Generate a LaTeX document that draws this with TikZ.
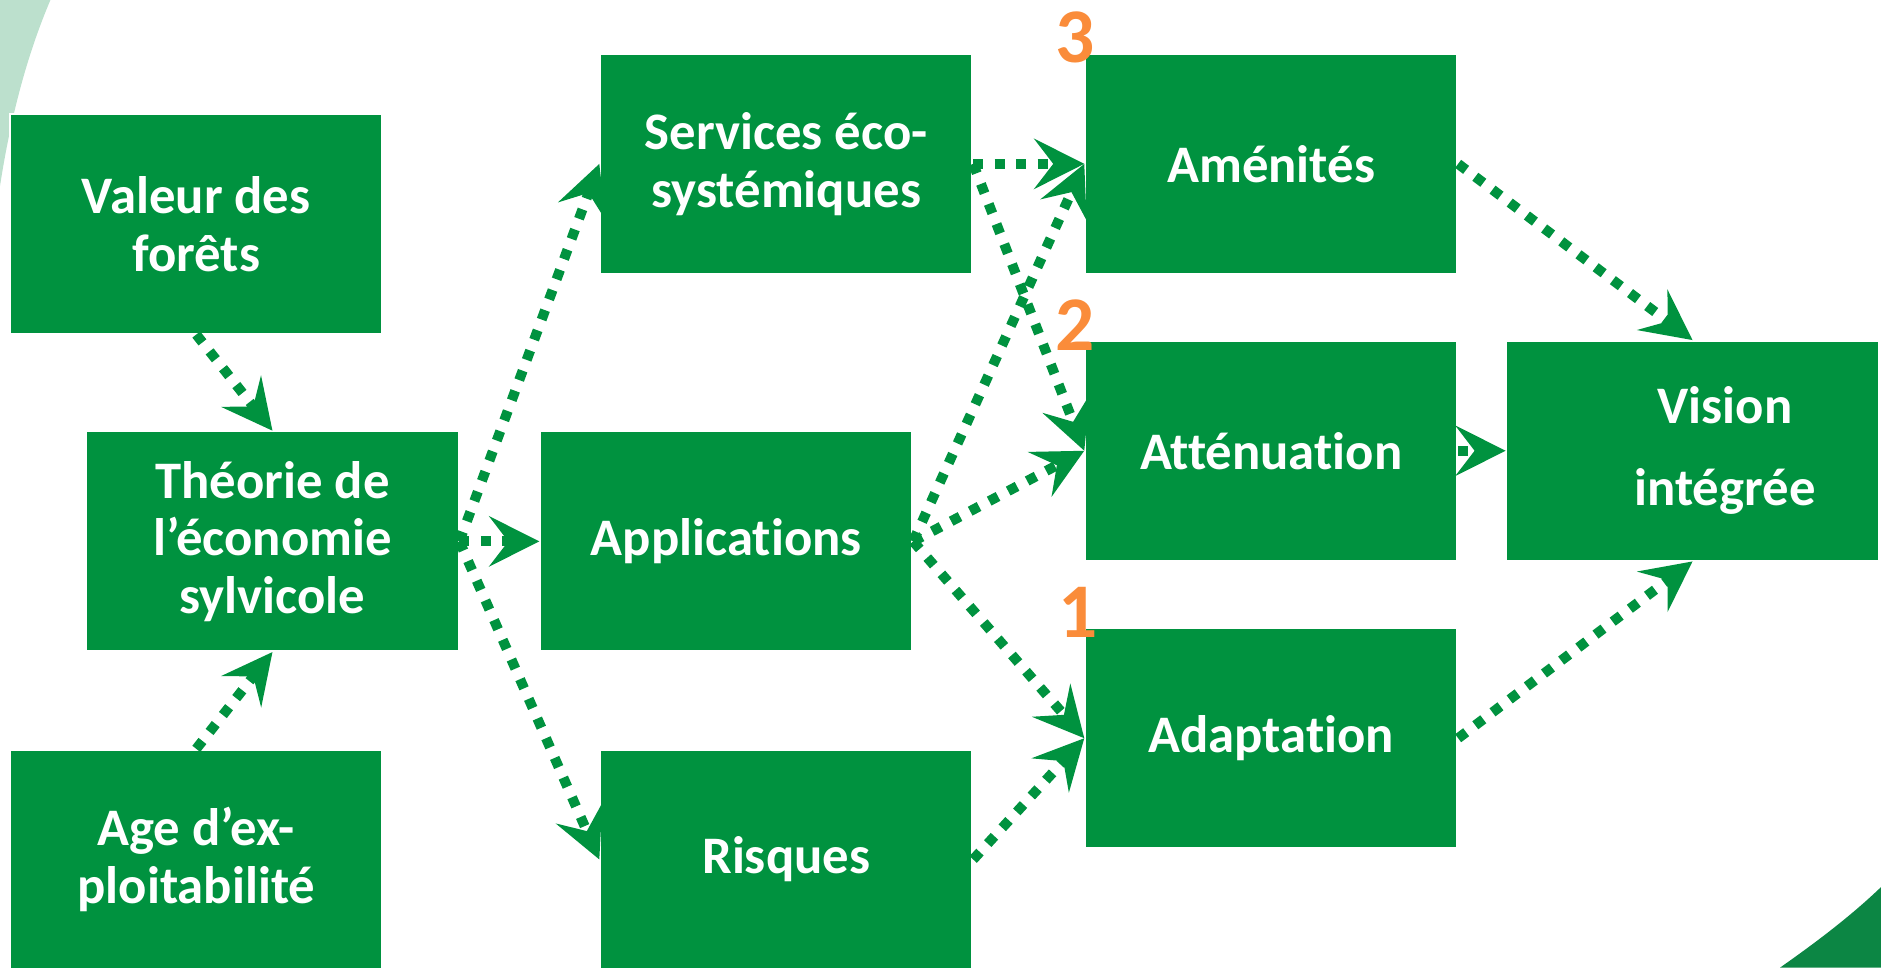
\documentclass[tikz,border=0pt]{standalone}
\usepackage{fontspec}
\setmainfont{Carlito}[Ligatures={NoCommon,NoDiscretionary}]
\usetikzlibrary{arrows.meta}

\definecolor{boxgreen}{RGB}{0,146,63}
\definecolor{numorange}{RGB}{250,140,58}
\definecolor{palegreen}{RGB}{188,224,205}
\definecolor{cornergreen}{RGB}{12,134,68}

\tikzstyle{block} = [rectangle,fill=boxgreen,draw=white,line width=1pt,minimum width=7.44cm,minimum height=4.39cm,inner sep=0pt,align=center,text=white,font=\fontsize{30}{32.8}\selectfont\bfseries]
\tikzstyle{flow} = [draw=boxgreen,line width=0.2cm,dash pattern=on 0.2cm off 0.23cm]
\tikzstyle{rank} = [text=numorange,inner sep=0pt,font=\fontsize{44}{48}\selectfont\bfseries]

\begin{document}
\begin{tikzpicture}[x=0.024cm,y=-0.024cm,>={Stealth[length=1cm,width=1cm,inset=0.38cm]}]

	\useasboundingbox (0,0) rectangle (1567,806);

	% corner shapes
	\fill[palegreen] (0,0) -- (42,0) .. controls (25,40) and (10,90) .. (0,155) -- cycle;
	\fill[cornergreen] (1483,806) .. controls (1520,780) and (1545,760) .. (1567,739) -- (1567,806) -- cycle;

	\node (valeur) [block] at (163.5,186.5) {Valeur des\\forêts};
	\node (theorie) [block] at (227,451) {Théorie de\\l’économie\\sylvicole};
	\node (age) [block] at (163.5,716) {Age d’ex-\\ploitabilité};

	\node (services) [block] at (655,136.5) {Services éco-\\systémiques};
	\node (applications) [block] at (605,451) {Applications};
	\node (risques) [block] at (655,716) {Risques};

	\node (amenites) [block] at (1059,136.5) {Aménités};
	\node (attenuation) [block] at (1059,375.5) {Atténuation};
	\node (adaptation) [block] at (1059,615) {Adaptation};

	\node (vision) [block] at (1410,375.5) {\hspace*{1.3cm}Vision\\[14pt]\hspace*{1.3cm}intégrée};

	\node (rank3) [rank] at (896,31) {3};
	\node (rank2) [rank] at (896,271) {2};
	\node (rank1) [rank] at (898,510) {1};

	\path[->]
		(valeur.south) edge[flow] (theorie.north)
		(age.north) edge[flow] (theorie.south)

		(theorie.east) edge[flow] (services.west)
		(theorie.east) edge[flow] (applications.west)
		(theorie.east) edge[flow] (risques.west)

		(services.east) edge[flow] (amenites.west)
		(services.east) edge[flow] (attenuation.west)
		(applications.east) edge[flow] (amenites.west)
		(applications.east) edge[flow] (attenuation.west)
		(applications.east) edge[flow] (adaptation.west)
		(risques.east) edge[flow] (adaptation.west)

		(amenites.east) edge[flow] (vision.north)
		(attenuation.east) edge[flow] (vision.west)
		(adaptation.east) edge[flow] (vision.south)
		;

\end{tikzpicture}
\end{document}
